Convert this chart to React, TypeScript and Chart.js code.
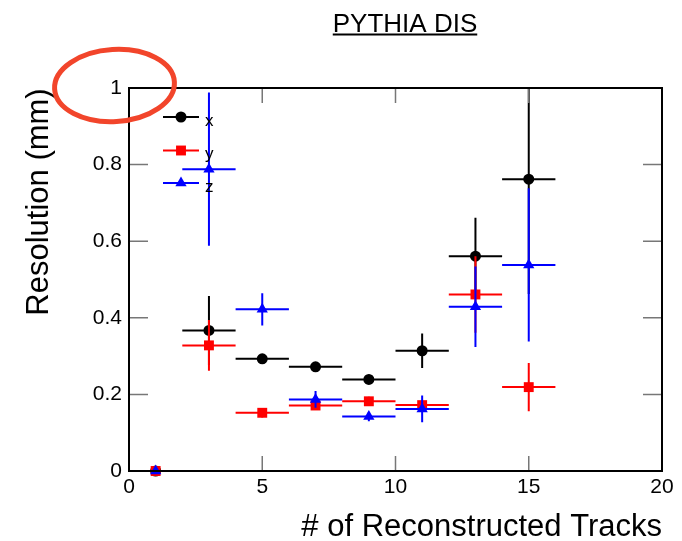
import React, { useEffect, useRef } from 'react';
import { Chart, registerables } from 'chart.js';

Chart.register(...registerables);

// ---- data ----
const tracks = [1, 3, 5, 7, 9, 11, 13, 15];
const binHalfWidth = [0, 1, 1, 1, 1, 1, 1, 1];
const resX = [0, 0.367, 0.293, 0.272, 0.239, 0.314, 0.561, 0.762];
const errX = [0, 0.09, 0.012, 0.012, 0.012, 0.045, 0.1, 0.3];
const resY = [0, 0.328, 0.152, 0.171, 0.182, 0.172, 0.461, 0.219];
const errY = [0, 0.066, 0.012, 0.012, 0.012, 0.012, 0.1, 0.063];
const resZ = [0, 0.788, 0.422, 0.187, 0.142, 0.162, 0.429, 0.538];
const errZ = [0, 0.2, 0.042, 0.022, 0.012, 0.035, 0.105, 0.2];
const seriesNames = ['x', 'y', 'z'];
const xTickValues = [0, 5, 10, 15, 20];
const yTickValues = [0, 0.2, 0.4, 0.6, 0.8, 1];
const chartTitle = 'PYTHIA DIS';
const xAxisTitle = '# of Reconstructed Tracks';
const yAxisTitle = 'Resolution (mm)';

const FONT = '"Liberation Sans", Arial, Helvetica, sans-serif';

function makePoints(vals: number[], errs: number[]) {
  return tracks.map((t, i) => ({ x: t, y: vals[i], ex: binHalfWidth[i], ey: errs[i] }));
}

const errorBarPlugin = {
  id: 'errorBars',
  beforeDatasetDraw(chart: any, args: any) {
    const ds = chart.data.datasets[args.index];
    const { ctx, chartArea, scales } = chart;
    const xs = scales.x;
    const ys = scales.y;
    ctx.save();
    ctx.beginPath();
    ctx.rect(chartArea.left, chartArea.top, chartArea.right - chartArea.left, chartArea.bottom - chartArea.top);
    ctx.clip();
    ctx.strokeStyle = ds.borderColor;
    ctx.lineWidth = 2;
    ds.data.forEach((p: any) => {
      const px = xs.getPixelForValue(p.x);
      const py = ys.getPixelForValue(p.y);
      ctx.beginPath();
      if (p.ex > 0) {
        ctx.moveTo(xs.getPixelForValue(p.x - p.ex), py);
        ctx.lineTo(xs.getPixelForValue(p.x + p.ex), py);
      }
      if (p.ey > 0) {
        ctx.moveTo(px, ys.getPixelForValue(p.y - p.ey));
        ctx.lineTo(px, ys.getPixelForValue(p.y + p.ey));
      }
      ctx.stroke();
    });
    ctx.restore();
  },
};

const decorPlugin = {
  id: 'decor',
  afterDraw(chart: any) {
    const { ctx, chartArea, scales } = chart;
    const { left, right, top, bottom } = chartArea;
    const xs = scales.x;
    const ys = scales.y;
    ctx.save();

    // inside ticks
    ctx.strokeStyle = '#777';
    ctx.lineWidth = 1.5;
    ctx.beginPath();
    yTickValues.forEach((v) => {
      if (v <= 0 || v >= 1) return;
      const py = ys.getPixelForValue(v);
      ctx.moveTo(left, py);
      ctx.lineTo(left + 19, py);
      ctx.moveTo(right, py);
      ctx.lineTo(right - 19, py);
    });
    xTickValues.forEach((v) => {
      if (v <= 0 || v >= 20) return;
      const px = xs.getPixelForValue(v);
      ctx.moveTo(px, bottom);
      ctx.lineTo(px, bottom - 15);
      ctx.moveTo(px, top);
      ctx.lineTo(px, top + 15);
    });
    ctx.stroke();

    // frame
    ctx.strokeStyle = '#000';
    ctx.lineWidth = 2;
    ctx.strokeRect(left, top, right - left, bottom - top);

    // legend
    const rows = [
      { name: seriesNames[0], color: '#000000', style: 'circle', r: 5.5, y: 117 },
      { name: seriesNames[1], color: '#ff0000', style: 'rect', r: 7, y: 150.5 },
      { name: seriesNames[2], color: '#0000ff', style: 'triangle', r: 6.5, y: 183 },
    ];
    rows.forEach((row) => {
      ctx.strokeStyle = row.color;
      ctx.fillStyle = row.color;
      ctx.lineWidth = 2;
      ctx.beginPath();
      ctx.moveTo(163, row.y);
      ctx.lineTo(199, row.y);
      ctx.stroke();
      ctx.beginPath();
      const cx = 181;
      if (row.style === 'circle') {
        ctx.arc(cx, row.y, row.r, 0, Math.PI * 2);
      } else if (row.style === 'rect') {
        const h = row.r * Math.SQRT1_2;
        ctx.rect(cx - h, row.y - h, 2 * h, 2 * h);
      } else {
        ctx.moveTo(cx, row.y - row.r);
        ctx.lineTo(cx + row.r * 0.866, row.y + row.r / 2);
        ctx.lineTo(cx - row.r * 0.866, row.y + row.r / 2);
        ctx.closePath();
      }
      ctx.fill();
      ctx.fillStyle = '#000';
      ctx.font = `17px ${FONT}`;
      ctx.textAlign = 'left';
      ctx.textBaseline = 'middle';
      ctx.fillText(row.name, 205, row.y + 4);
    });

    // title
    ctx.fillStyle = '#000';
    ctx.font = `26px ${FONT}`;
    ctx.textAlign = 'center';
    ctx.textBaseline = 'alphabetic';
    ctx.fillText(chartTitle, 405, 32);
    const tw = ctx.measureText(chartTitle).width;
    ctx.strokeStyle = '#000';
    ctx.lineWidth = 2;
    ctx.beginPath();
    ctx.moveTo(405 - tw / 2, 34.5);
    ctx.lineTo(405 + tw / 2, 34.5);
    ctx.stroke();

    // x axis title
    ctx.font = `31px ${FONT}`;
    ctx.textAlign = 'right';
    ctx.fillText(xAxisTitle, right, 536);

    // y axis title
    ctx.save();
    ctx.translate(48, 202);
    ctx.rotate(-Math.PI / 2);
    ctx.textAlign = 'center';
    ctx.fillText(yAxisTitle, 0, 0);
    ctx.restore();

    // hand-drawn red ellipse annotation
    ctx.strokeStyle = '#f2452b';
    ctx.lineWidth = 5;
    ctx.beginPath();
    ctx.ellipse(114.5, 85.5, 60, 36, -0.06, 0, Math.PI * 2);
    ctx.stroke();

    ctx.restore();
  },
};

export default function App() {
  const canvasRef = useRef<HTMLCanvasElement | null>(null);

  useEffect(() => {
    const canvas = canvasRef.current;
    if (!canvas) return;
    const chart = new Chart(canvas, {
      type: 'scatter',
      data: {
        datasets: [
          {
            label: seriesNames[0],
            data: makePoints(resX, errX),
            borderColor: '#000000',
            backgroundColor: '#000000',
            pointStyle: 'circle',
            pointRadius: 5.5,
            pointBorderWidth: 0,
            order: 3,
            clip: false,
          },
          {
            label: seriesNames[1],
            data: makePoints(resY, errY),
            borderColor: '#ff0000',
            backgroundColor: '#ff0000',
            pointStyle: 'rect',
            pointRadius: 7,
            pointBorderWidth: 0,
            order: 2,
            clip: false,
          },
          {
            label: seriesNames[2],
            data: makePoints(resZ, errZ),
            borderColor: '#0000ff',
            backgroundColor: '#0000ff',
            pointStyle: 'triangle',
            pointRadius: 6.5,
            pointBorderWidth: 0,
            order: 1,
            clip: false,
          },
        ] as any,
      },
      options: {
        responsive: false,
        animation: false,
        events: [],
        layout: { padding: { top: 88, right: 20, left: 0, bottom: 0 } },
        plugins: {
          legend: { display: false },
          tooltip: { enabled: false },
          title: { display: false },
        },
        scales: {
          x: {
            type: 'linear',
            min: 0,
            max: 20,
            afterFit: (s: any) => {
              s.height = 70;
            },
            afterBuildTicks: (s: any) => {
              s.ticks = xTickValues.map((v) => ({ value: v }));
            },
            grid: { display: false, drawTicks: false },
            border: { display: false },
            ticks: {
              color: '#000',
              font: { family: FONT, size: 21 },
              padding: 4,
              maxRotation: 0,
              autoSkip: false,
            },
          },
          y: {
            type: 'linear',
            min: 0,
            max: 1,
            afterFit: (s: any) => {
              s.width = 129;
            },
            afterBuildTicks: (s: any) => {
              s.ticks = yTickValues.map((v) => ({ value: v }));
            },
            grid: { display: false, drawTicks: false },
            border: { display: false },
            ticks: {
              color: '#000',
              font: { family: FONT, size: 21 },
              padding: 7,
              autoSkip: false,
              callback: (v: any) => String(Math.round(Number(v) * 10) / 10),
            },
          },
        },
      } as any,
      plugins: [errorBarPlugin, decorPlugin],
    });
    return () => chart.destroy();
  }, []);

  return (
    <div style={{ position: 'absolute', left: 0, top: 0, width: 682, height: 541, background: '#fff' }}>
      <canvas ref={canvasRef} width={682} height={541} style={{ width: 682, height: 541 }} />
    </div>
  );
}
